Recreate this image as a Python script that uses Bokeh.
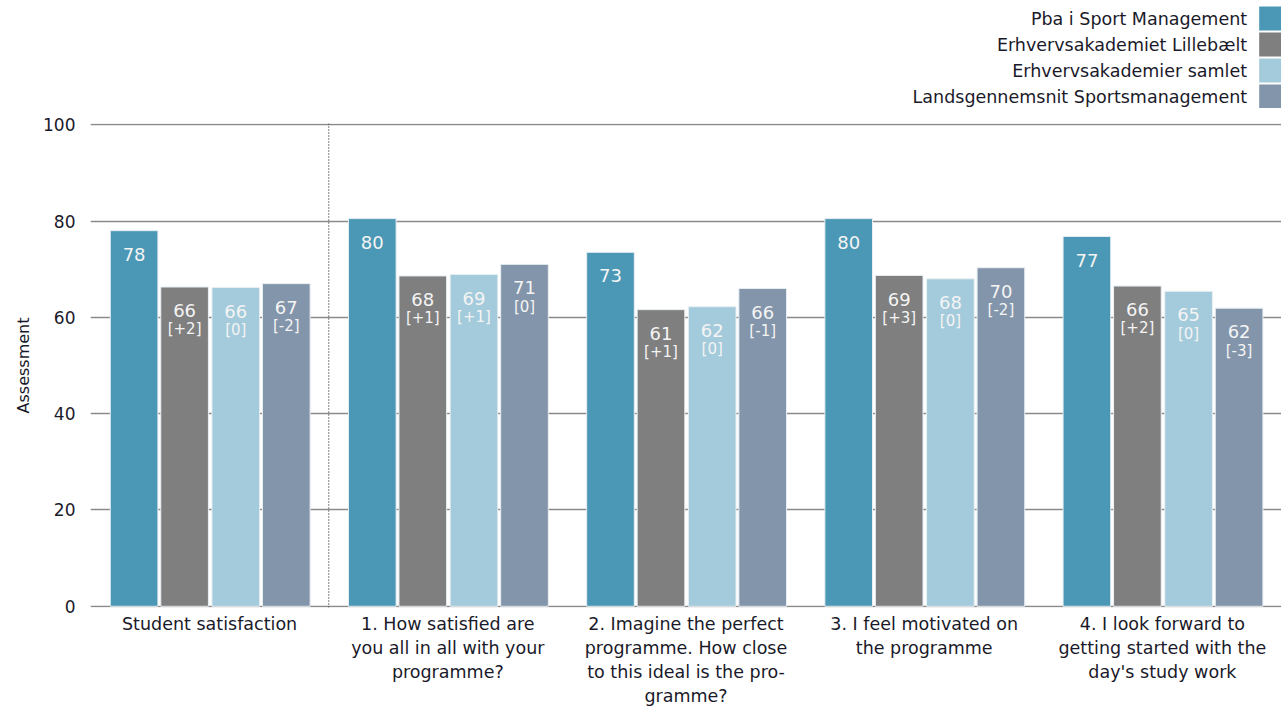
from bokeh.plotting import figure
from bokeh.layouts import column
from bokeh.models import ColumnDataSource, Range1d, FixedTicker, Span
from bokeh.core.properties import value
from bokeh.embed import file_html
from bokeh.resources import INLINE

categories = [
    "Student satisfaction",
    "1. How satisfied are\nyou all in all with your\nprogramme?",
    "2. Imagine the perfect\nprogramme. How close\nto this ideal is the pro-\ngramme?",
    "3. I feel motivated on\nthe programme",
    "4. I look forward to\ngetting started with the\nday's study work",
]
series_names = [
    "Pba i Sport Management",
    "Erhvervsakademiet Lillebælt",
    "Erhvervsakademier samlet",
    "Landsgennemsnit Sportsmanagement",
]
colors = ["#4a98b5", "#7f7f7f", "#a3cbdb", "#8395aa"]

pba = [78, 80.5, 73.5, 80.5, 76.8]
lillebaelt = [66.3, 68.6, 61.6, 68.7, 66.5]
samlet = [66.2, 68.9, 62.2, 68.0, 65.4]
landsgns = [67.0, 71.0, 66.0, 70.3, 61.9]

pba_labels = ["78", "80", "73", "80", "77"]
lillebaelt_labels = ["66", "68", "61", "69", "66"]
samlet_labels = ["66", "69", "62", "68", "65"]
landsgns_labels = ["67", "71", "66", "70", "62"]

lillebaelt_delta = ["[+2]", "[+1]", "[+1]", "[+3]", "[+2]"]
samlet_delta = ["[0]", "[+1]", "[0]", "[0]", "[0]"]
landsgns_delta = ["[-2]", "[0]", "[-1]", "[-2]", "[-3]"]

y_ticks = [0, 20, 40, 60, 80, 100]

FONT = "DejaVu Sans"
TXT = "#1a1a2a"
W = 1281
LEG_H = 108

# ---------- legend figure ----------
leg = figure(width=W, height=LEG_H, output_backend="svg", toolbar_location=None,
             x_range=Range1d(0, W), y_range=Range1d(0, LEG_H),
             min_border=0, outline_line_color=None)
leg.axis.visible = False
leg.grid.visible = False
n = len(series_names)
leg_y = [LEG_H - 18 - 26 * i for i in range(n)]
leg_src = ColumnDataSource(dict(name=series_names, color=colors, y=leg_y,
                                xs=[W - 12] * n, xt=[W - 37] * n))
leg.rect(x="xs", y="y", width=24, height=24, fill_color="color",
         line_color=None, source=leg_src)
leg.text(x="xt", y="y", text="name", source=leg_src, text_align="right",
         text_baseline="middle", text_font=value(FONT), text_font_size="17.5px",
         text_color=TXT)

# ---------- main figure ----------
p = figure(width=W, height=600, output_backend="svg", toolbar_location=None,
           x_range=Range1d(0, 5), y_range=Range1d(-0.25, 100.25),
           min_border_left=90, min_border_right=0, min_border_top=15,
           min_border_bottom=101, outline_line_color=None)

offsets = [-0.317, -0.105, 0.11, 0.322]
bw = 0.2
all_vals = [pba, lillebaelt, samlet, landsgns]
all_labels = [pba_labels, lillebaelt_labels, samlet_labels, landsgns_labels]
all_deltas = [None, lillebaelt_delta, samlet_delta, landsgns_delta]

for k in range(4):
    xs = [i + 0.5 + offsets[k] for i in range(len(categories))]
    src = ColumnDataSource(dict(x=xs, top=all_vals[k], lab=all_labels[k],
                                lab_y=[v - 4.9 for v in all_vals[k]]))
    p.vbar(x="x", top="top", bottom=0, width=bw, fill_color=colors[k],
           line_color="#e8eef2", line_width=1, source=src)
    p.text(x="x", y="lab_y", text="lab", source=src, text_align="center",
           text_baseline="middle", text_font=value(FONT), text_font_size="18px",
           text_color="#f4f4f4")
    if all_deltas[k] is not None:
        dsrc = ColumnDataSource(dict(x=xs, d=all_deltas[k],
                                     y=[v - 8.8 for v in all_vals[k]]))
        p.text(x="x", y="y", text="d", source=dsrc, text_align="center",
               text_baseline="middle", text_font=value(FONT),
               text_font_size="15px", text_color="#f4f4f4")

# dotted separator after summary category
p.add_layout(Span(location=1, dimension="height", line_color="#333333",
                  line_dash="1 2", line_width=1.2))

p.xgrid.visible = False
p.ygrid.ticker = FixedTicker(ticks=y_ticks)
p.ygrid.grid_line_color = "#8a8a8a"
p.ygrid.grid_line_width = 1.5
p.ygrid.level = "underlay"

p.yaxis.ticker = FixedTicker(ticks=y_ticks)
p.yaxis.axis_line_color = None
p.yaxis.major_tick_line_color = None
p.yaxis.major_tick_out = 0
p.yaxis.major_tick_in = 0
p.yaxis.minor_tick_line_color = None
p.yaxis.major_label_text_font = FONT
p.yaxis.major_label_text_font_size = "17px"
p.yaxis.major_label_text_color = TXT
p.yaxis.major_label_standoff = 15
p.yaxis.axis_label = "Assessment"
p.yaxis.axis_label_text_font = FONT
p.yaxis.axis_label_text_font_size = "16px"
p.yaxis.axis_label_text_font_style = "normal"
p.yaxis.axis_label_text_color = TXT
p.yaxis.axis_label_standoff = 7

p.xaxis.ticker = FixedTicker(ticks=[i + 0.5 for i in range(len(categories))])
p.xaxis.major_label_overrides = {i + 0.5: c for i, c in enumerate(categories)}
p.xaxis.axis_line_color = None
p.xaxis.major_tick_line_color = None
p.xaxis.major_tick_out = 0
p.xaxis.major_tick_in = 0
p.xaxis.minor_tick_line_color = None
p.xaxis.major_label_text_font = FONT
p.xaxis.major_label_text_font_size = "17.5px"
p.xaxis.major_label_text_color = TXT
p.xaxis.major_label_standoff = 6

layout = column(leg, p, spacing=0)
open("out.html", "w").write(file_html(layout, INLINE))
